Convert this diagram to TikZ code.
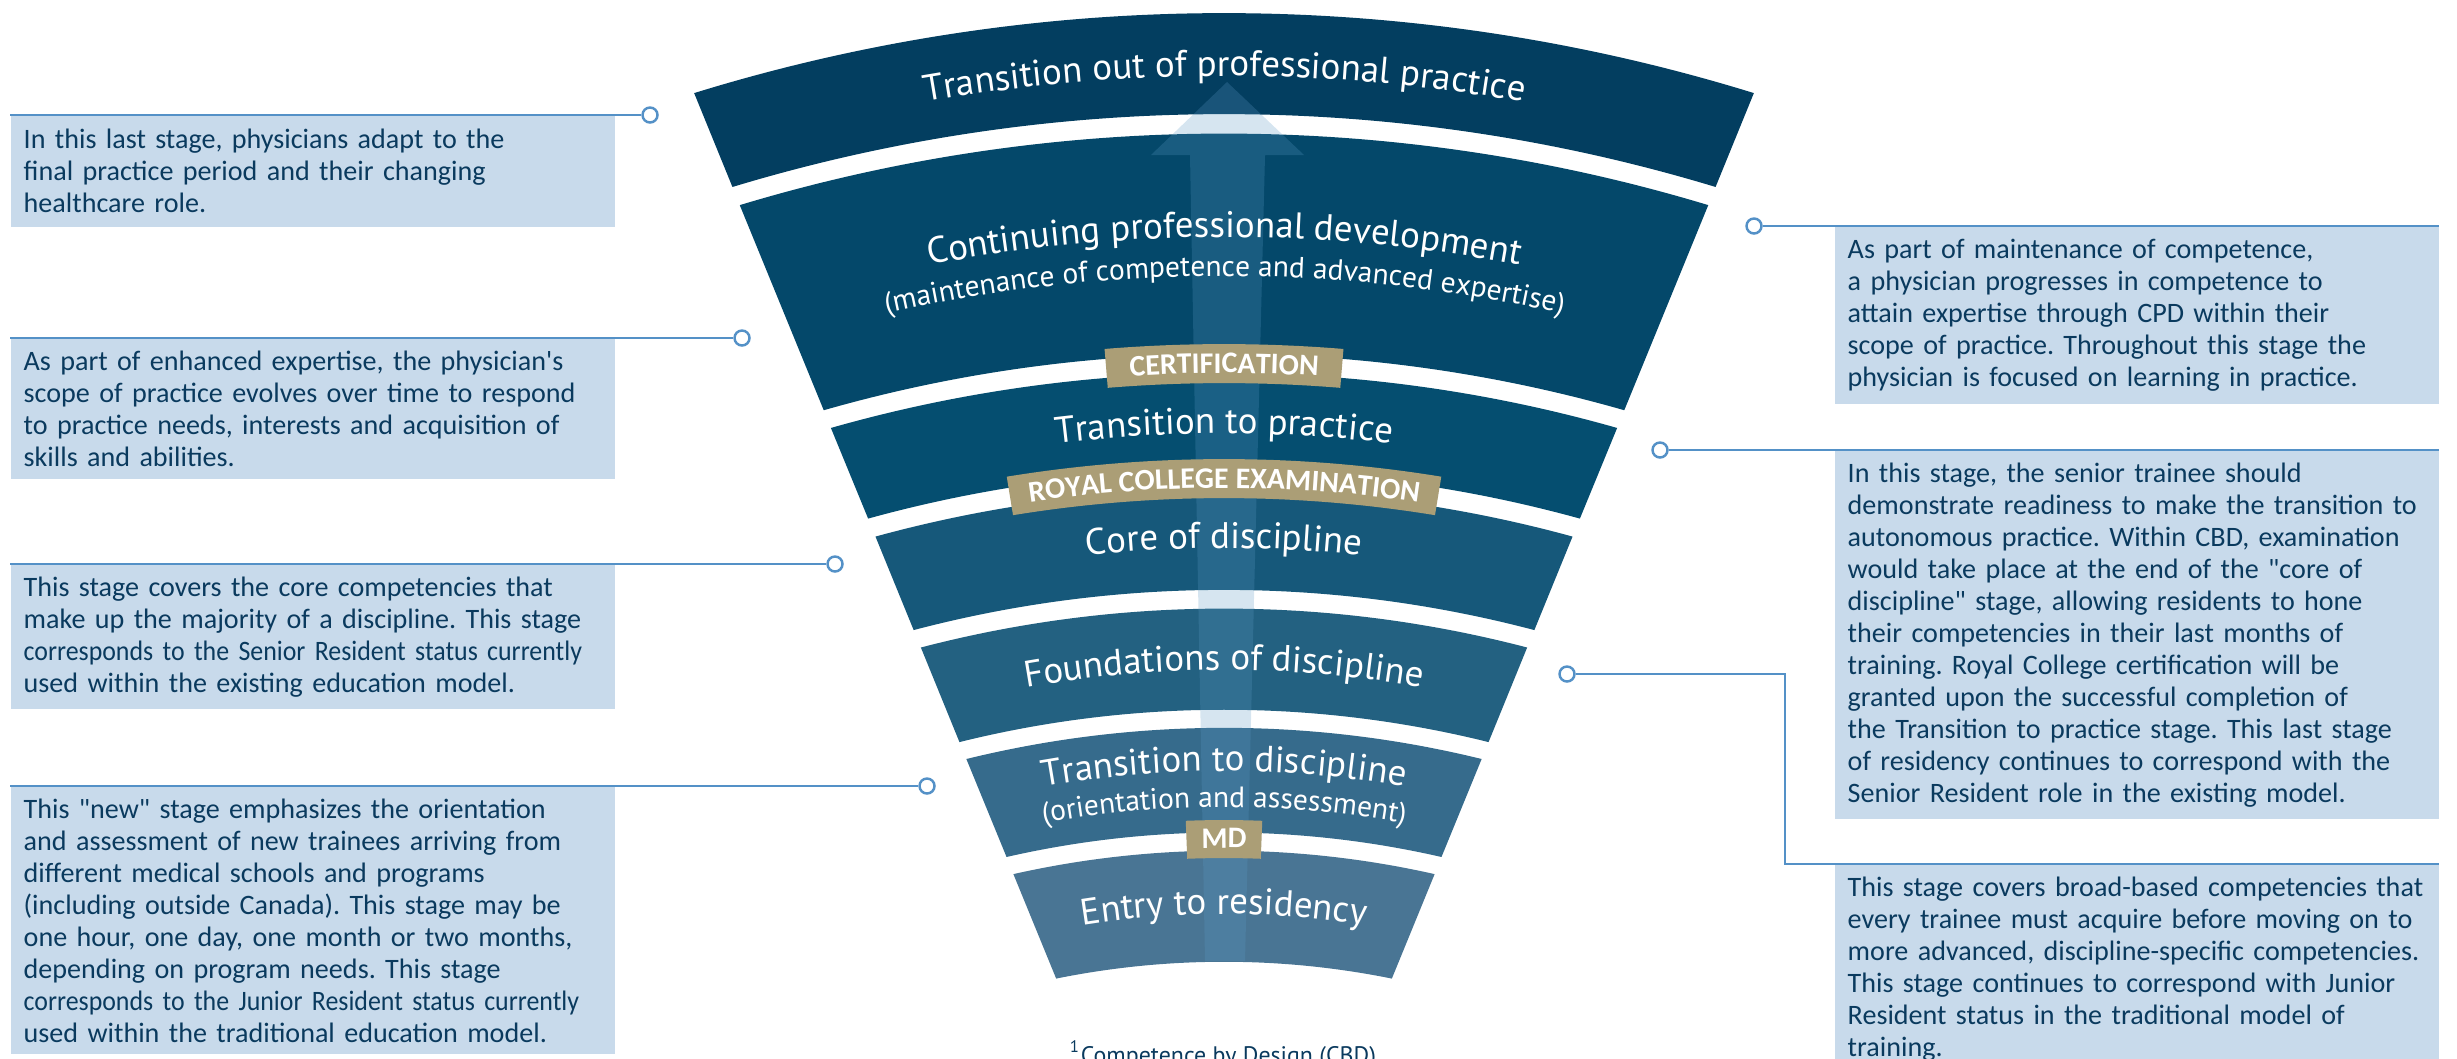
\documentclass[tikz,border=0pt]{standalone}
\usepackage{fontspec}
\usepackage{tikz}
\usetikzlibrary{decorations.text}
\newfontfamily\notefont{Carlito}
\newfontfamily\bandfont{PT Sans}
\definecolor{bandA}{HTML}{033E60}
\definecolor{bandB}{HTML}{04486A}
\definecolor{bandC}{HTML}{054E70}
\definecolor{bandD}{HTML}{16587A}
\definecolor{bandE}{HTML}{236181}
\definecolor{bandF}{HTML}{366B8C}
\definecolor{bandG}{HTML}{497594}
\definecolor{gold}{HTML}{AB9E76}
\definecolor{notefill}{HTML}{C8DAEB}
\definecolor{notetext}{HTML}{0A3A5E}
\definecolor{leadblue}{HTML}{5491C7}
\definecolor{arrowblue}{HTML}{5B99C4}
\newcommand{\bandbig}{\bandfont\fontsize{10.5}{12}\selectfont}
\newcommand{\bandsmall}{\bandfont\fontsize{8.4}{9}\selectfont}
\newcommand{\tagbig}{\notefont\bfseries\fontsize{8.5}{9}\selectfont}
\newcommand{\squeeze}[1]{\mbox{\addfontfeature{FakeStretch=0.92}#1}}

\begin{document}
\begin{tikzpicture}[
    note/.style={anchor=north west, fill=notefill, text=notetext, align=left,
        font=\notefont\fontsize{8}{9.1}\selectfont\frenchspacing, text width=5.78cm,
        inner xsep=0.13cm, inner ysep=0.12cm},
    leader/.style={draw=leadblue, line width=0.7pt},
    knob/.style={circle, draw=leadblue, line width=0.7pt, fill=white,
        minimum size=0.15cm, inner sep=0pt},
    bandtext/.style={decorate, decoration={text along path, text align=center,
        text color=white, text={|\bandbig|#1}}},
    subtext/.style={decorate, decoration={text along path, text align=center,
        text color=white, text={|\bandsmall|#1}}},
    tagtext/.style={decorate, decoration={text along path, text align=center,
        text color=white, text={|\tagbig|#1}}}
  ]
    \useasboundingbox (0,0) rectangle (24.57,10.58);
    \clip (0,0) rectangle (24.57,10.58);

    % funnel, arcs round a centre far below the page
    \begin{scope}[shift={(12.24,-7.50)}]
        \fill[bandA] (107.17:17.95) arc[start angle=107.17, end angle=72.83, radius=17.95]
            -- (73.13:16.94) arc[start angle=73.13, end angle=106.87, radius=16.94] -- cycle;
        \fill[bandB] (106.81:16.745) arc[start angle=106.81, end angle=73.19, radius=16.745]
            -- (74.02:14.54) arc[start angle=74.02, end angle=105.98, radius=14.54] -- cycle;
        \fill[bandC] (105.90:14.35) arc[start angle=105.90, end angle=74.10, radius=14.35]
            -- (74.57:13.377) arc[start angle=74.57, end angle=105.43, radius=13.377] -- cycle;
        \fill[bandD] (105.33:13.184) arc[start angle=105.33, end angle=74.67, radius=13.184]
            -- (75.24:12.182) arc[start angle=75.24, end angle=104.76, radius=12.182] -- cycle;
        \fill[bandE] (104.64:11.995) arc[start angle=104.64, end angle=75.36, radius=11.995]
            -- (76.06:10.983) arc[start angle=76.06, end angle=103.94, radius=10.983] -- cycle;
        \fill[bandF] (103.80:10.802) arc[start angle=103.80, end angle=76.20, radius=10.802]
            -- (77.12:9.756) arc[start angle=77.12, end angle=102.88, radius=9.756] -- cycle;
        \fill[bandG] (102.71:9.574) arc[start angle=102.71, end angle=77.29, radius=9.574]
            -- (78.56:8.463) arc[start angle=78.56, end angle=101.44, radius=8.463] -- cycle;
    \end{scope}

    % arrow up through the stages
    \fill[arrowblue, opacity=0.25] (12.27,9.76) -- (13.04,9.03) -- (12.65,9.03) -- (12.45,0.97)
        -- (12.05,0.97) -- (11.90,9.03) -- (11.51,9.03) -- cycle;

    \begin{scope}[shift={(12.24,-7.50)}]
        % gold tags
        \fill[gold] (94.68:14.64) arc[start angle=94.68, end angle=85.32, radius=14.64]
            -- (85.32:14.25) arc[start angle=85.32, end angle=94.68, radius=14.25] -- cycle;
        \fill[gold] (99.27:13.49) arc[start angle=99.27, end angle=80.73, radius=13.49]
            -- (80.73:13.10) arc[start angle=80.73, end angle=99.27, radius=13.10] -- cycle;
        \fill[gold] (92.22:9.88) arc[start angle=92.22, end angle=87.78, radius=9.88]
            -- (87.78:9.50) arc[start angle=87.78, end angle=92.22, radius=9.50] -- cycle;
        \path[tagtext={CERTIFICATION}] (110:14.35) arc[start angle=110, end angle=70, radius=14.35];
        \path[tagtext={ROYAL COLLEGE EXAMINATION}] (110:13.20) arc[start angle=110, end angle=70, radius=13.20];
        \path[tagtext={MD}] (110:9.60) arc[start angle=110, end angle=70, radius=9.60];

        % stage names
        \path[bandtext={Transition out of professional practice}] (115:17.32) arc[start angle=115, end angle=65, radius=17.32];
        \path[bandtext={Continuing professional development}] (115:15.71) arc[start angle=115, end angle=65, radius=15.71];
        \path[subtext={(maintenance of competence and advanced expertise)}] (115:15.32) arc[start angle=115, end angle=65, radius=15.32];
        \path[bandtext={Transition to practice}] (115:13.745) arc[start angle=115, end angle=65, radius=13.745];
        \path[bandtext={Core of discipline}] (115:12.60) arc[start angle=115, end angle=65, radius=12.60];
        \path[bandtext={Foundations of discipline}] (115:11.38) arc[start angle=115, end angle=65, radius=11.38];
        \path[bandtext={Transition to discipline}] (115:10.37) arc[start angle=115, end angle=65, radius=10.37];
        \path[subtext={(orientation and assessment)}] (115:10.01) arc[start angle=115, end angle=65, radius=10.01];
        \path[bandtext={Entry to residency}] (115:8.94) arc[start angle=115, end angle=65, radius=8.94];
    \end{scope}

    % notes on the left
    \node[note, minimum height=1.11cm] (outNote) at (0.10,9.43)
        {In this last stage, physicians adapt to the\\final practice period and their changing\\healthcare role.};
    \node[note, minimum height=1.40cm] (expertNote) at (0.10,7.20)
        {As part of enhanced expertise, the physician\textquotesingle s\\scope of practice evolves over time to respond\\to practice needs, interests and acquisition of\\skills and abilities.};
    \node[note, minimum height=1.40cm] (coreNote) at (0.10,4.94)
        {This stage covers the core competencies that\\make up the majority of a discipline. This stage\\\squeeze{corresponds to the Senior Resident status currently}\\used within the existing education model.};
    \node[note] (transNote) at (0.10,2.72)
        {This "new" stage emphasizes the orientation\\and assessment of new trainees arriving from\\different medical schools and programs\\(including outside Canada). This stage may be\\one hour, one day, one month or two months,\\depending on program needs. This stage\\\squeeze{corresponds to the Junior Resident status currently}\\used within the traditional education model.};

    % notes on the right
    \node[note, minimum height=1.77cm] (maintNote) at (18.34,8.32)
        {As part of maintenance of competence,\\a physician progresses in competence to\\attain expertise through CPD within their\\scope of practice. Throughout this stage the\\physician is focused on learning in practice.};
    \node[note] (practiceNote) at (18.34,6.08)
        {In this stage, the senior trainee should\\demonstrate readiness to make the transition to\\autonomous practice. Within CBD, examination\\would take place at the end of the "core of\\discipline" stage, allowing residents to hone\\their competencies in their last months of\\training. Royal College certification will be\\granted upon the successful completion of\\the Transition to practice stage. This last stage\\of residency continues to correspond with the\\Senior Resident role in the existing model.};
    \node[note] (foundNote) at (18.34,1.94)
        {This stage covers broad-based competencies that\\every trainee must acquire before moving on to\\more advanced, discipline-specific competencies.\\This stage continues to correspond with Junior\\Resident status in the traditional model of\\training.};

    % leaders
    \node[knob] (outDot) at (6.50,9.43) {};
    \node[knob] (expertDot) at (7.42,7.20) {};
    \node[knob] (coreDot) at (8.35,4.94) {};
    \node[knob] (transDot) at (9.27,2.72) {};
    \node[knob] (maintDot) at (17.54,8.32) {};
    \node[knob] (practiceDot) at (16.60,6.08) {};
    \node[knob] (foundDot) at (15.67,3.84) {};
    \coordinate (foundBend) at (17.85,1.94);
    \draw[leader] (outNote.north west) -- (outDot.west);
    \draw[leader] (expertNote.north west) -- (expertDot.west);
    \draw[leader] (coreNote.north west) -- (coreDot.west);
    \draw[leader] (transNote.north west) -- (transDot.west);
    \draw[leader] (maintDot.east) -- (maintNote.north east);
    \draw[leader] (practiceDot.east) -- (practiceNote.north east);
    \draw[leader] (foundDot.east) -| (foundBend) -- (foundNote.north east);

    \node[anchor=base, text=notetext, font=\bandfont\fontsize{6.8}{8}\selectfont] (cbdNote) at (12.23,-0.05)
        {\textsuperscript{1}Competence by Design (CBD)};
\end{tikzpicture}
\end{document}
